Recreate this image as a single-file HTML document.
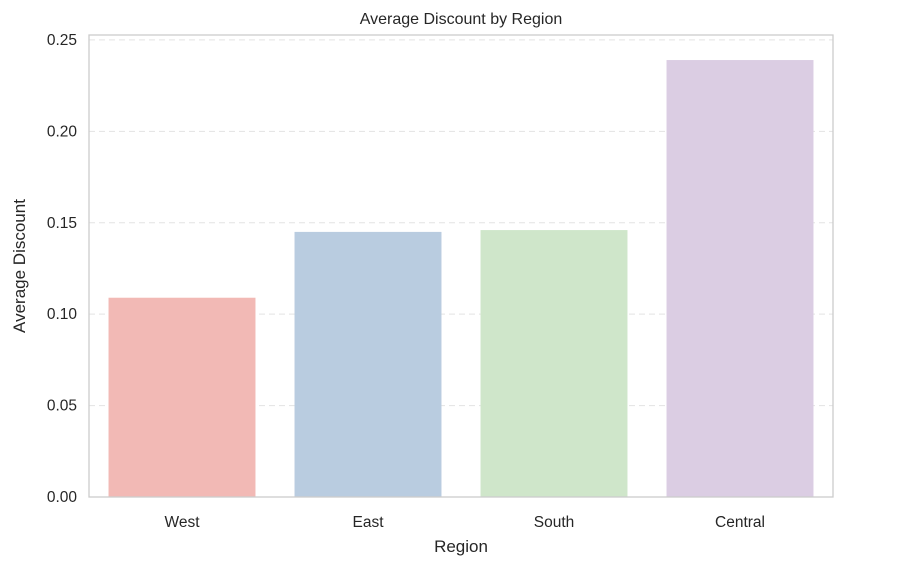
<!DOCTYPE html>
<html><head><meta charset="utf-8"><style>
body{margin:0;background:#fff;font-family:"Liberation Sans",Arial,sans-serif;}
svg text{font-family:"Liberation Sans",Arial,sans-serif;fill:#262626;}
</style></head><body>
<svg id="chart" width="922" height="570" xmlns="http://www.w3.org/2000/svg">
<rect width="922" height="570" fill="#fff"/>
<g id="grid"></g>
<g id="bars"></g>
<rect x="89" y="35" width="744" height="462" fill="none" stroke="#cccccc" stroke-width="1.3"/>
<g id="yticks"></g>
<g id="xticks"></g>
<text x="461" y="24" text-anchor="middle" font-size="16">Average Discount by Region</text>
<text x="461" y="552" text-anchor="middle" font-size="17">Region</text>
<text transform="translate(25,266) rotate(-90)" text-anchor="middle" font-size="17">Average Discount</text>
</svg>
<script>
const categories=["West","East","South","Central"];
const values=[0.109,0.145,0.146,0.239];
const colors=["#f2b9b5","#b9cce0","#cfe6ca","#dbcde3"];
const yTicks=[0,0.05,0.10,0.15,0.20,0.25];
const yTickLabels=["0.00","0.05","0.10","0.15","0.20","0.25"];
const L=89,R=833,T=35,B=497,yMax=0.2527;
const ns="http://www.w3.org/2000/svg";
function y(v){return B-(v/yMax)*(B-T);}
function x(i){return L+(i+0.5)*(R-L)/categories.length;}
const bw=0.79*(R-L)/categories.length;
function mk(tag,attrs,parent,txt){const e=document.createElementNS(ns,tag);for(const k in attrs)e.setAttribute(k,attrs[k]);if(txt!==undefined)e.textContent=txt;document.getElementById(parent).appendChild(e);return e;}
yTicks.forEach((t,i)=>{
 if(t>0){const g=mk("line",{x1:L,x2:R,y1:y(t),y2:y(t),stroke:"#e3e3e3","stroke-dasharray":"6,4","stroke-width":1},"grid");
 
 }
 const tx=mk("text",{x:L-12,y:y(t)+5,"text-anchor":"end","font-size":15.5},"yticks",yTickLabels[i]);
 
 
});
categories.forEach((c,i)=>{
 const b=mk("rect",{x:x(i)-bw/2,y:y(values[i]),width:bw,height:B-y(values[i]),fill:colors[i]},"bars");
 
 
 const tx=mk("text",{x:x(i),y:527,"text-anchor":"middle","font-size":15.5},"xticks",c);
 
 
});
</script>
</body></html>
